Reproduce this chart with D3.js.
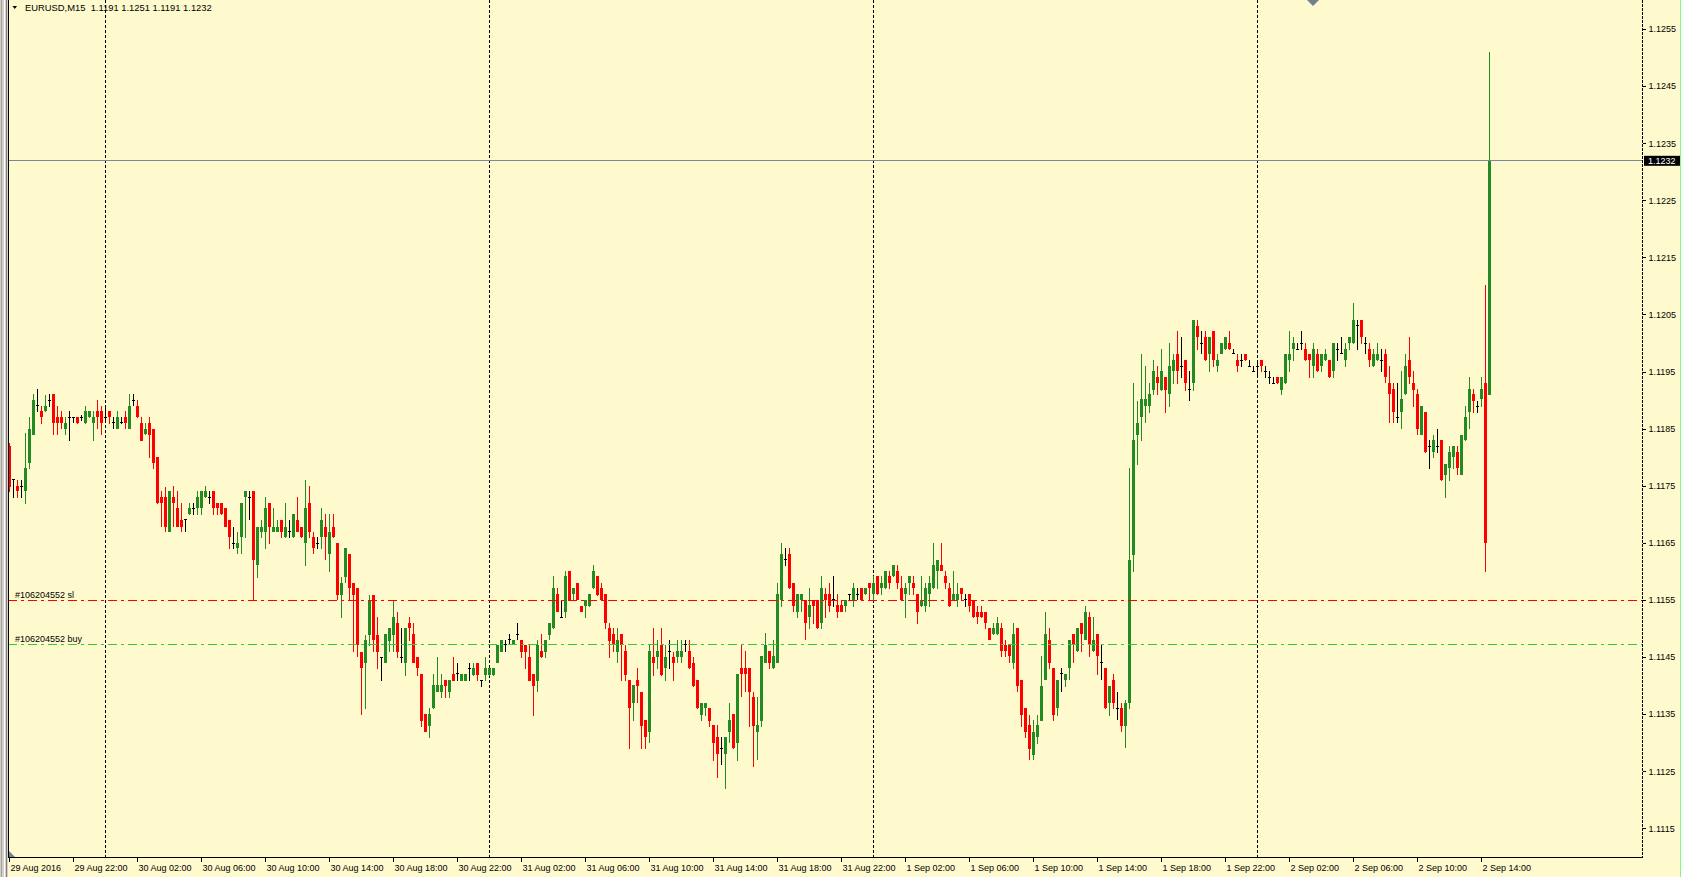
<!DOCTYPE html>
<html><head><meta charset="utf-8">
<script src="https://cdn.jsdelivr.net/npm/d3@7/dist/d3.min.js"></script>
<style>
html,body{margin:0;padding:0;background:#FFFACD;overflow:hidden}
svg{display:block}
text{font-family:"Liberation Sans",Arial,sans-serif;font-size:9px;fill:#000}
</style></head><body>
<svg id="c" width="1681" height="877"></svg>
<script>
// ---- data (EURUSD M15, bars from 29 Aug 2016 18:00) ----
const symbolTitle = "EURUSD,M15  1.1191 1.1251 1.1191 1.1232";
const priceTicks = [1.1115,1.1125,1.1135,1.1145,1.1155,1.1165,1.1175,1.1185,1.1195,1.1205,1.1215,1.1225,1.1235,1.1245,1.1255];
const timeTickIdx = [0,16,32,48,64,80,96,112,128,144,160,176,192,208,224,240,256,272,288,304,320,336,352,368];
const timeTickLabels = ["29 Aug 2016","29 Aug 22:00","30 Aug 02:00","30 Aug 06:00","30 Aug 10:00","30 Aug 14:00","30 Aug 18:00","30 Aug 22:00","31 Aug 02:00","31 Aug 06:00","31 Aug 10:00","31 Aug 14:00","31 Aug 18:00","31 Aug 22:00","1 Sep 02:00","1 Sep 06:00","1 Sep 10:00","1 Sep 14:00","1 Sep 18:00","1 Sep 22:00","2 Sep 02:00","2 Sep 06:00","2 Sep 10:00","2 Sep 14:00"];
const daySeparatorIdx = [24,120,216,312];
const bidPrice = 1.1232;
const slPrice = 1.11550;
const buyPrice = 1.11472;
const orderLabels = ["#106204552 sl","#106204552 buy"];

const openP = [
1.11821,1.11761,1.11750,1.11749,1.11741,1.11790,1.11840,1.11891,1.11882,1.11881,
1.11900,1.11912,1.11871,1.11871,1.11851,1.11871,1.11871,1.11871,1.11871,1.11860,
1.11871,1.11860,1.11881,1.11881,1.11871,1.11881,1.11861,1.11851,1.11861,1.11871,
1.11851,1.11900,1.11891,1.11860,1.11841,1.11860,1.11851,1.11801,1.11731,1.11731,
1.11670,1.11731,1.11711,1.11691,1.11691,1.11701,1.11711,1.11711,1.11711,1.11731,
1.11731,1.11741,1.11720,1.11720,1.11711,1.11691,1.11650,1.11641,1.11661,1.11731,
1.11731,1.11741,1.11612,1.11670,1.11670,1.11720,1.11670,1.11670,1.11691,1.11661,
1.11670,1.11661,1.11691,1.11679,1.11650,1.11720,1.11661,1.11650,1.11661,1.11679,
1.11632,1.11679,1.11650,1.11560,1.11591,1.11632,1.11581,1.11571,1.11460,1.11441,
1.11489,1.11560,1.11489,1.11450,1.11441,1.11479,1.11489,1.11510,1.11450,1.11441,
1.11510,1.11491,1.11450,1.11421,1.11351,1.11330,1.11361,1.11390,1.11390,1.11411,
1.11390,1.11421,1.11421,1.11409,1.11409,1.11431,1.11419,1.11441,1.11409,1.11419,
1.11419,1.11419,1.11441,1.11460,1.11472,1.11481,1.11472,1.11491,1.11481,1.11472,
1.11450,1.11421,1.11409,1.11462,1.11460,1.11489,1.11501,1.11561,1.11520,1.11530,
1.11602,1.11561,1.11581,1.11540,1.11540,1.11540,1.11571,1.11592,1.11571,1.11561,
1.11501,1.11491,1.11460,1.11491,1.11462,1.11411,1.11371,1.11411,1.11390,1.11341,
1.11320,1.11450,1.11450,1.11472,1.11431,1.11460,1.11450,1.11450,1.11450,1.11472,
1.11462,1.11441,1.11411,1.11349,1.11361,1.11361,1.11332,1.11311,1.11291,1.11281,
1.11320,1.11351,1.11301,1.11432,1.11432,1.11432,1.11381,1.11320,1.11339,1.11441,
1.11461,1.11431,1.11441,1.11551,1.11621,1.11631,1.11581,1.11530,1.11551,1.11551,
1.11520,1.11551,1.11551,1.11510,1.11561,1.11561,1.11551,1.11542,1.11542,1.11540,
1.11561,1.11551,1.11561,1.11571,1.11561,1.11581,1.11561,1.11592,1.11571,1.11571,
1.11592,1.11592,1.11602,1.11571,1.11561,1.11581,1.11581,1.11561,1.11540,1.11540,
1.11561,1.11571,1.11602,1.11612,1.11592,1.11571,1.11551,1.11551,1.11571,1.11551,
1.11561,1.11551,1.11530,1.11530,1.11530,1.11501,1.11491,1.11491,1.11501,1.11472,
1.11472,1.11441,1.11501,1.11411,1.11361,1.11332,1.11279,1.11310,1.11339,1.11411,
1.11481,1.11431,1.11361,1.11421,1.11411,1.11431,1.11491,1.11461,1.11510,1.11481,
1.11520,1.11461,1.11491,1.11441,1.11431,1.11370,1.11411,1.11361,1.11361,1.11330,
1.11370,1.11630,1.11840,1.11871,1.11890,1.11890,1.11918,1.11941,1.11918,1.11941,
1.11911,1.11951,1.11982,1.11960,1.11971,1.11920,1.11930,1.12031,1.12000,1.12011,
1.11982,1.12022,1.11960,1.11982,1.11990,1.12000,1.11982,1.11971,1.11971,1.11982,
1.11960,1.11951,1.11960,1.11971,1.11951,1.11941,1.11930,1.11941,1.11918,1.11930,
1.11971,1.11990,1.11990,1.12000,1.11990,1.11982,1.11960,1.11982,1.11960,1.11971,
1.11971,1.11951,1.11990,1.11982,1.11971,1.12000,1.12000,1.12031,1.12041,1.12000,
1.11990,1.11960,1.11971,1.11971,1.11982,1.11931,1.11920,1.11871,1.11880,1.11911,
1.11971,1.11931,1.11911,1.11840,1.11880,1.11820,1.11810,1.11820,1.11831,1.11770,
1.11781,1.11801,1.11810,1.11770,1.11831,1.11880,1.11911,1.11890,1.11902,1.11931,
1.11910];
const highP = [
1.11825,1.11761,1.11761,1.11761,1.11843,1.11872,1.11912,1.11920,1.11891,1.11910,
1.11912,1.11912,1.11891,1.11881,1.11871,1.11881,1.11871,1.11871,1.11875,1.11891,
1.11881,1.11881,1.11901,1.11891,1.11891,1.11881,1.11871,1.11881,1.11871,1.11881,
1.11912,1.11912,1.11901,1.11871,1.11860,1.11871,1.11851,1.11801,1.11742,1.11749,
1.11741,1.11750,1.11741,1.11720,1.11691,1.11720,1.11720,1.11741,1.11741,1.11750,
1.11741,1.11741,1.11720,1.11720,1.11711,1.11691,1.11679,1.11670,1.11720,1.11741,
1.11741,1.11741,1.11679,1.11691,1.11731,1.11720,1.11711,1.11691,1.11691,1.11720,
1.11691,1.11701,1.11731,1.11679,1.11761,1.11750,1.11670,1.11661,1.11711,1.11701,
1.11701,1.11701,1.11650,1.11591,1.11641,1.11632,1.11581,1.11571,1.11460,1.11489,
1.11560,1.11560,1.11520,1.11450,1.11491,1.11501,1.11551,1.11530,1.11501,1.11501,
1.11520,1.11510,1.11450,1.11421,1.11351,1.11361,1.11421,1.11450,1.11421,1.11411,
1.11411,1.11450,1.11441,1.11421,1.11421,1.11441,1.11441,1.11441,1.11409,1.11450,
1.11431,1.11431,1.11472,1.11481,1.11481,1.11491,1.11481,1.11510,1.11481,1.11472,
1.11472,1.11421,1.11481,1.11491,1.11481,1.11510,1.11592,1.11571,1.11551,1.11602,
1.11602,1.11571,1.11581,1.11540,1.11551,1.11561,1.11612,1.11592,1.11581,1.11561,
1.11510,1.11501,1.11501,1.11491,1.11472,1.11411,1.11402,1.11431,1.11390,1.11341,
1.11472,1.11501,1.11481,1.11501,1.11472,1.11481,1.11460,1.11481,1.11481,1.11481,
1.11481,1.11450,1.11411,1.11371,1.11371,1.11361,1.11332,1.11332,1.11311,1.11310,
1.11371,1.11351,1.11421,1.11472,1.11461,1.11432,1.11390,1.11381,1.11452,1.11492,
1.11461,1.11481,1.11581,1.11651,1.11641,1.11641,1.11581,1.11561,1.11561,1.11551,
1.11571,1.11551,1.11551,1.11592,1.11571,1.11581,1.11592,1.11561,1.11551,1.11551,
1.11561,1.11581,1.11571,1.11571,1.11571,1.11581,1.11592,1.11592,1.11592,1.11602,
1.11602,1.11612,1.11612,1.11592,1.11581,1.11592,1.11592,1.11561,1.11592,1.11581,
1.11592,1.11651,1.11621,1.11651,1.11602,1.11581,1.11602,1.11581,1.11571,1.11561,
1.11561,1.11551,1.11540,1.11540,1.11530,1.11501,1.11510,1.11520,1.11510,1.11481,
1.11472,1.11510,1.11501,1.11411,1.11361,1.11350,1.11341,1.11350,1.11452,1.11530,
1.11501,1.11431,1.11411,1.11431,1.11421,1.11481,1.11491,1.11501,1.11510,1.11540,
1.11530,1.11520,1.11491,1.11472,1.11431,1.11400,1.11421,1.11390,1.11370,1.11375,
1.11782,1.11931,1.11900,1.11982,1.11961,1.11931,1.11971,1.11961,1.11991,1.11941,
1.12000,1.11982,1.12022,1.12011,1.11971,1.11951,1.12041,1.12041,1.12022,1.12022,
1.12011,1.12022,1.11982,1.12000,1.12011,1.12022,1.11990,1.11982,1.11982,1.11982,
1.11971,1.11960,1.11971,1.11971,1.11960,1.11951,1.11941,1.11941,1.11941,1.11982,
1.12022,1.12011,1.12000,1.12022,1.12000,1.11982,1.12000,1.11991,1.11982,1.11991,
1.11971,1.12000,1.12000,1.12011,1.12000,1.12011,1.12071,1.12041,1.12041,1.12011,
1.12000,1.11990,1.12000,1.11991,1.11991,1.11961,1.11931,1.11931,1.11951,1.11982,
1.12011,1.11951,1.11920,1.11890,1.11880,1.11831,1.11840,1.11851,1.11831,1.11789,
1.11820,1.11820,1.11820,1.11840,1.11890,1.11941,1.11920,1.11900,1.11941,1.12102,
1.12510];
const lowP = [
1.11740,1.11731,1.11731,1.11731,1.11720,1.11781,1.11840,1.11881,1.11860,1.11881,
1.11889,1.11841,1.11841,1.11851,1.11841,1.11830,1.11861,1.11860,1.11865,1.11860,
1.11871,1.11830,1.11851,1.11841,1.11861,1.11860,1.11851,1.11851,1.11860,1.11851,
1.11851,1.11891,1.11871,1.11830,1.11841,1.11801,1.11781,1.11720,1.11679,1.11670,
1.11670,1.11679,1.11679,1.11670,1.11670,1.11701,1.11701,1.11701,1.11701,1.11731,
1.11720,1.11701,1.11701,1.11701,1.11679,1.11641,1.11641,1.11632,1.11632,1.11661,
1.11691,1.11551,1.11591,1.11661,1.11641,1.11650,1.11670,1.11670,1.11661,1.11661,
1.11661,1.11661,1.11670,1.11661,1.11612,1.11661,1.11632,1.11641,1.11641,1.11621,
1.11600,1.11661,1.11551,1.11520,1.11581,1.11551,1.11460,1.11452,1.11351,1.11361,
1.11471,1.11460,1.11431,1.11409,1.11441,1.11460,1.11460,1.11450,1.11441,1.11419,
1.11479,1.11441,1.11419,1.11330,1.11320,1.11310,1.11361,1.11390,1.11380,1.11380,
1.11380,1.11409,1.11409,1.11409,1.11409,1.11409,1.11419,1.11409,1.11400,1.11409,
1.11419,1.11419,1.11441,1.11460,1.11460,1.11472,1.11472,1.11481,1.11450,1.11431,
1.11409,1.11349,1.11390,1.11450,1.11450,1.11481,1.11501,1.11530,1.11520,1.11520,
1.11551,1.11551,1.11551,1.11530,1.11520,1.11540,1.11571,1.11559,1.11551,1.11501,
1.11450,1.11460,1.11441,1.11409,1.11409,1.11291,1.11339,1.11371,1.11291,1.11291,
1.11301,1.11419,1.11431,1.11419,1.11409,1.11431,1.11409,1.11441,1.11441,1.11460,
1.11431,1.11400,1.11361,1.11339,1.11349,1.11330,1.11270,1.11240,1.11262,1.11221,
1.11301,1.11291,1.11270,1.11381,1.11390,1.11330,1.11260,1.11271,1.11330,1.11441,
1.11431,1.11431,1.11441,1.11540,1.11611,1.11571,1.11530,1.11520,1.11530,1.11481,
1.11501,1.11510,1.11501,1.11501,1.11520,1.11530,1.11540,1.11520,1.11530,1.11530,
1.11551,1.11540,1.11551,1.11551,1.11561,1.11551,1.11551,1.11561,1.11561,1.11571,
1.11571,1.11592,1.11571,1.11551,1.11520,1.11561,1.11561,1.11510,1.11540,1.11530,
1.11540,1.11571,1.11571,1.11602,1.11571,1.11540,1.11551,1.11540,1.11551,1.11540,
1.11530,1.11520,1.11510,1.11520,1.11501,1.11481,1.11491,1.11491,1.11452,1.11452,
1.11441,1.11431,1.11390,1.11330,1.11310,1.11271,1.11271,1.11300,1.11339,1.11411,
1.11431,1.11339,1.11349,1.11390,1.11400,1.11411,1.11441,1.11461,1.11461,1.11481,
1.11452,1.11461,1.11421,1.11411,1.11361,1.11349,1.11361,1.11341,1.11320,1.11293,
1.11360,1.11600,1.11789,1.11831,1.11861,1.11880,1.11911,1.11911,1.11918,1.11880,
1.11890,1.11930,1.11930,1.11941,1.11918,1.11900,1.11918,1.11990,1.11982,1.11971,
1.11951,1.11960,1.11951,1.11982,1.11990,1.11990,1.11982,1.11951,1.11960,1.11971,
1.11960,1.11951,1.11941,1.11951,1.11941,1.11930,1.11930,1.11930,1.11911,1.11930,
1.11951,1.11971,1.11990,1.11990,1.11971,1.11941,1.11941,1.11951,1.11951,1.11971,
1.11941,1.11941,1.11971,1.11982,1.11960,1.11990,1.12000,1.11990,1.12000,1.11982,
1.11960,1.11960,1.11971,1.11951,1.11931,1.11861,1.11861,1.11861,1.11851,1.11911,
1.11930,1.11890,1.11840,1.11840,1.11810,1.11781,1.11801,1.11810,1.11761,1.11730,
1.11761,1.11781,1.11770,1.11770,1.11831,1.11851,1.11880,1.11880,1.11890,1.11600,
1.11910];
const closeP = [
1.11749,1.11761,1.11741,1.11749,1.11781,1.11851,1.11901,1.11891,1.11871,1.11891,
1.11900,1.11860,1.11860,1.11860,1.11860,1.11871,1.11871,1.11860,1.11871,1.11882,
1.11881,1.11871,1.11871,1.11860,1.11871,1.11871,1.11861,1.11871,1.11861,1.11860,
1.11891,1.11900,1.11871,1.11830,1.11851,1.11840,1.11790,1.11720,1.11720,1.11679,
1.11741,1.11720,1.11679,1.11679,1.11691,1.11711,1.11711,1.11731,1.11741,1.11741,
1.11731,1.11711,1.11711,1.11701,1.11679,1.11661,1.11650,1.11650,1.11720,1.11741,
1.11731,1.11621,1.11679,1.11679,1.11711,1.11679,1.11679,1.11679,1.11670,1.11679,
1.11670,1.11701,1.11670,1.11661,1.11711,1.11670,1.11641,1.11650,1.11691,1.11661,
1.11670,1.11661,1.11560,1.11581,1.11641,1.11571,1.11560,1.11471,1.11431,1.11481,
1.11551,1.11481,1.11460,1.11450,1.11491,1.11501,1.11520,1.11460,1.11450,1.11501,
1.11501,1.11441,1.11431,1.11339,1.11320,1.11351,1.11402,1.11402,1.11402,1.11400,
1.11411,1.11409,1.11421,1.11421,1.11421,1.11431,1.11431,1.11419,1.11409,1.11431,
1.11431,1.11431,1.11472,1.11481,1.11472,1.11481,1.11481,1.11491,1.11460,1.11460,
1.11409,1.11400,1.11472,1.11450,1.11481,1.11510,1.11571,1.11530,1.11520,1.11592,
1.11551,1.11571,1.11551,1.11530,1.11551,1.11561,1.11602,1.11559,1.11551,1.11510,
1.11479,1.11472,1.11481,1.11472,1.11419,1.11361,1.11402,1.11400,1.11330,1.11310,
1.11462,1.11441,1.11462,1.11419,1.11450,1.11460,1.11441,1.11462,1.11462,1.11472,
1.11431,1.11400,1.11361,1.11371,1.11371,1.11339,1.11301,1.11281,1.11291,1.11310,
1.11341,1.11291,1.11421,1.11421,1.11421,1.11390,1.11330,1.11332,1.11452,1.11472,
1.11441,1.11452,1.11561,1.11631,1.11621,1.11571,1.11540,1.11561,1.11561,1.11510,
1.11542,1.11540,1.11501,1.11571,1.11551,1.11540,1.11551,1.11530,1.11530,1.11551,
1.11561,1.11571,1.11561,1.11551,1.11571,1.11571,1.11581,1.11561,1.11581,1.11602,
1.11581,1.11612,1.11581,1.11551,1.11571,1.11592,1.11571,1.11530,1.11551,1.11571,
1.11581,1.11612,1.11621,1.11602,1.11581,1.11540,1.11561,1.11561,1.11561,1.11551,
1.11540,1.11520,1.11520,1.11520,1.11510,1.11481,1.11501,1.11510,1.11461,1.11461,
1.11452,1.11491,1.11400,1.11349,1.11320,1.11289,1.11320,1.11332,1.11400,1.11491,
1.11441,1.11349,1.11411,1.11421,1.11421,1.11481,1.11472,1.11501,1.11491,1.11530,
1.11472,1.11481,1.11452,1.11441,1.11361,1.11400,1.11370,1.11361,1.11330,1.11370,
1.11621,1.11831,1.11861,1.11902,1.11902,1.11911,1.11951,1.11930,1.11951,1.11918,
1.11961,1.11971,1.11951,1.11960,1.11930,1.11920,1.12041,1.12011,1.12000,1.11971,
1.12011,1.11971,1.11971,1.12000,1.12011,1.11990,1.11982,1.11960,1.11971,1.11971,
1.11960,1.11951,1.11960,1.11960,1.11951,1.11941,1.11930,1.11930,1.11941,1.11982,
1.11982,1.12000,1.11990,1.12000,1.11971,1.11971,1.11990,1.11951,1.11982,1.11982,
1.11941,1.12000,1.11990,1.11982,1.11990,1.12011,1.12041,1.12031,1.12011,1.12000,
1.11971,1.11982,1.11982,1.11971,1.11941,1.11911,1.11880,1.11871,1.11902,1.11961,
1.11941,1.11918,1.11851,1.11890,1.11810,1.11820,1.11831,1.11820,1.11761,1.11789,
1.11810,1.11820,1.11781,1.11840,1.11871,1.11920,1.11900,1.11890,1.11920,1.11650,
1.12320];

// ---- colours ----
const BG = "#FFFACD", UP = "#228B22", DOWN = "#FF0000", DOJI = "#000000";

const svg = d3.select("#c");
const W = 1681, H = 877;
const plotL = 8, plotR = 1642, plotB = 857;

const x = d3.scaleLinear().domain([0, openP.length - 1]).range([9.5, 9.5 + 4 * (openP.length - 1)]);
const y = d3.scaleLinear().domain([1.1115, 1.1255]).range([828.7, 29.5]);

svg.append("rect").attr("width", W).attr("height", H).attr("fill", BG);

// window frame on the left
svg.append("rect").attr("x", 0).attr("y", 0).attr("width", 8).attr("height", H).attr("fill", "#d4d0c8");
[[1.5,"#a0a0a0"],[4.5,"#ffffff"],[6.5,"#808080"]].forEach(([xx,c]) =>
  svg.append("line").attr("x1", xx).attr("x2", xx).attr("y1", 0).attr("y2", H).attr("stroke", c));
svg.append("line").attr("x1", W - 0.5).attr("x2", W - 0.5).attr("y1", 0).attr("y2", H).attr("stroke", "#7CFC7C");

const g = svg.append("g").attr("shape-rendering", "crispEdges");

// day separators
g.selectAll("line.sep").data(daySeparatorIdx).join("line")
  .attr("x1", d => x(d)).attr("x2", d => x(d)).attr("y1", 0).attr("y2", plotB)
  .attr("stroke", "#000").attr("stroke-dasharray", "3,2");

// candles
const bars = d3.range(openP.length).map(i => ({i, o: openP[i], h: highP[i], l: lowP[i], c: closeP[i]}));
const col = d => d.c > d.o ? UP : (d.c < d.o ? DOWN : DOJI);
const cg = g.append("g");
cg.selectAll("line.wick").data(bars).join("line")
  .attr("x1", d => x(d.i)).attr("x2", d => x(d.i))
  .attr("y1", d => y(d.h)).attr("y2", d => y(d.l) + 0.6)
  .attr("stroke", col);
cg.selectAll("rect.body").data(bars.filter(d => d.o !== d.c)).join("rect")
  .attr("x", d => x(d.i) - 1.5).attr("width", 3)
  .attr("y", d => y(Math.max(d.o, d.c)))
  .attr("height", d => Math.max(1, y(Math.min(d.o, d.c)) - y(Math.max(d.o, d.c))))
  .attr("fill", col);
cg.selectAll("line.doji").data(bars.filter(d => d.o === d.c)).join("line")
  .attr("x1", d => x(d.i) - 1.5).attr("x2", d => x(d.i) + 1.5)
  .attr("y1", d => y(d.o)).attr("y2", d => y(d.o))
  .attr("stroke", DOJI);

// bid line
g.append("line").attr("x1", plotL).attr("x2", plotR).attr("y1", y(bidPrice)).attr("y2", y(bidPrice))
  .attr("stroke", "#778899");

// order levels
g.append("line").attr("x1", plotL).attr("x2", plotR).attr("y1", y(slPrice)).attr("y2", y(slPrice))
  .attr("stroke", "#FF0000").attr("stroke-dasharray", "9,4,3,4");
g.append("line").attr("x1", plotL).attr("x2", plotR).attr("y1", y(buyPrice)).attr("y2", y(buyPrice))
  .attr("stroke", "#32CD32").attr("stroke-dasharray", "9,4,3,4");
svg.append("text").attr("x", 15).attr("y", y(slPrice) - 2.5).text(orderLabels[0]).attr("fill", "#202020");
svg.append("text").attr("x", 15).attr("y", y(buyPrice) - 2.5).text(orderLabels[1]).attr("fill", "#202020");

// borders
g.append("line").attr("x1", plotL + 0.5).attr("x2", plotL + 0.5).attr("y1", 0).attr("y2", plotB + 1).attr("stroke", "#000");
g.append("line").attr("x1", plotL).attr("x2", plotR + 1).attr("y1", plotB + 0.5).attr("y2", plotB + 0.5).attr("stroke", "#000");
g.append("line").attr("x1", plotR + 0.5).attr("x2", plotR + 0.5).attr("y1", 0).attr("y2", plotB).attr("stroke", "#000").attr("stroke-dasharray", "3,1");

// price axis
const yAxis = d3.axisRight(y).tickValues(priceTicks).tickSize(3).tickSizeOuter(0).tickPadding(3)
  .tickFormat(d3.format(".4f")).offset(0);
const ya = svg.append("g").attr("transform", `translate(${plotR + 0.5},0)`).call(yAxis);
ya.select(".domain").remove();
ya.selectAll("text").attr("font-family", "Liberation Sans, Arial, sans-serif").attr("font-size", 9).attr("fill", "#000");
ya.selectAll("line").attr("stroke", "#000").attr("shape-rendering", "crispEdges");

// current price label
const by = y(bidPrice);
svg.append("rect").attr("x", 1644).attr("y", by - 5).attr("width", 36).attr("height", 10).attr("fill", "#000");
svg.append("text").attr("x", 1648).attr("y", by + 3.5).text(d3.format(".4f")(bidPrice)).attr("fill", "#fff").style("fill", "#fff");

// time axis
const xAxis = d3.axisBottom(x).tickValues(timeTickIdx).tickSize(4).tickSizeOuter(0).tickPadding(3)
  .tickFormat((d, i) => timeTickLabels[i]).offset(0);
const xa = svg.append("g").attr("transform", `translate(0,${plotB + 1})`).call(xAxis);
xa.select(".domain").remove();
xa.selectAll("text").attr("text-anchor", "start").attr("dx", 1)
  .attr("font-family", "Liberation Sans, Arial, sans-serif").attr("font-size", 9).attr("fill", "#000");
xa.selectAll("line").attr("stroke", "#000").attr("shape-rendering", "crispEdges");

// title
svg.append("path").attr("d", "M12.5,6 L17,6 L14.75,9 Z").attr("fill", "#000");
svg.append("text").attr("x", 25).attr("y", 10.5).attr("xml:space", "preserve").style("white-space", "pre")
  .style("font-size", "9.4px").text(symbolTitle);

// small markers (chart shift / scroll)
svg.append("path").attr("d", "M1307,0 L1319,0 L1313,6 Z").attr("fill", "#708090");
svg.append("path").attr("d", "M9,851 L9,857 L15,857 Z").attr("fill", "#708090");
</script></body></html>
